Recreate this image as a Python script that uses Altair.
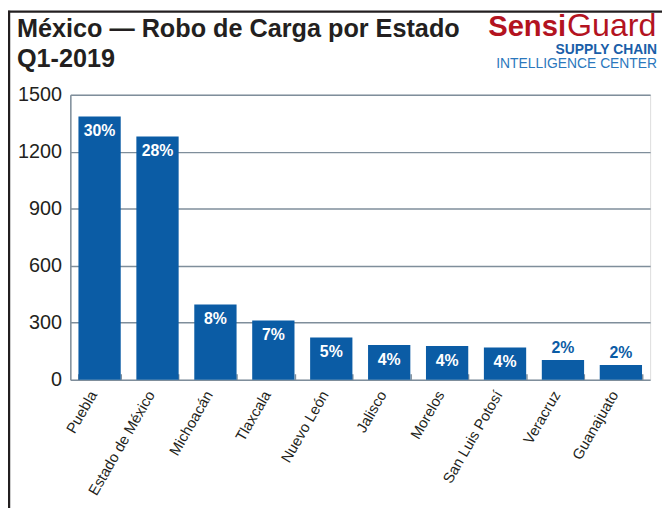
import altair as alt
import pandas as pd

estados = ["Puebla", "Estado de México", "Michoacán", "Tlaxcala", "Nuevo León",
           "Jalisco", "Morelos", "San Luis Potosí", "Veracruz", "Guanajuato"]
robos = [1385, 1280, 396, 312, 222, 182, 177, 170, 104, 78]
porcentajes = ["30%", "28%", "8%", "7%", "5%", "4%", "4%", "4%", "2%", "2%"]
posicion = ["in", "in", "in", "in", "in", "in", "in", "in", "out", "out"]
y_ticks = [0, 300, 600, 900, 1200, 1500]

df = pd.DataFrame({"estado": estados, "robos": robos, "pct": porcentajes, "pos": posicion})
one = pd.DataFrame({"a": [0]})

W, H = 586, 288
FONT = "Liberation Sans"
BLUE = "#0b5ca5"
GRID = "#7f8e9b"
DARK = "#231f20"

x_enc = alt.X("estado:N", sort=None, title=None,
              scale=alt.Scale(paddingInner=0.27, paddingOuter=0.14),
              axis=alt.Axis(labelAngle=300, labelAlign="right", labelBaseline="bottom",
                            labelFontSize=15, labelColor=DARK, labelFont=FONT,
                            labelPadding=16, tickBand="extent", tickSize=6,
                            tickColor=GRID, tickWidth=1.5, domain=False, offset=-6,
                            grid=False))
y_enc = alt.Y("robos:Q", title=None,
              scale=alt.Scale(domain=[0, 1500], nice=False),
              axis=alt.Axis(values=y_ticks, format="d", labelFontSize=20, labelColor=DARK,
                            labelFont=FONT, labelPadding=9, ticks=False,
                            domainColor=GRID, domainWidth=1.5,
                            gridColor=GRID, gridWidth=1.5, grid=True))

base = alt.Chart(df)
bars = base.mark_bar(color=BLUE).encode(x=x_enc, y=y_enc)

inside = base.transform_filter(alt.datum.pos == "in").mark_text(
    color="white", font=FONT, fontSize=16, fontWeight="bold", baseline="top", dy=7
).encode(x=alt.X("estado:N", sort=None), y=alt.Y("robos:Q"), text="pct:N")

outside = base.transform_filter(alt.datum.pos == "out").mark_text(
    color=BLUE, font=FONT, fontSize=16, fontWeight="bold", baseline="bottom", dy=-4
).encode(x=alt.X("estado:N", sort=None), y=alt.Y("robos:Q"), text="pct:N")

c1 = alt.Chart(one)
title1 = c1.mark_text(font=FONT, fontSize=25.5, fontWeight="bold", color=DARK,
                      align="left", baseline="middle").encode(
    x=alt.value(-54), y=alt.value(-66), text=alt.value("México — Robo de Carga por Estado"))
title2 = c1.mark_text(font=FONT, fontSize=25.5, fontWeight="bold", color=DARK,
                      align="left", baseline="middle").encode(
    x=alt.value(-54), y=alt.value(-36), text=alt.value("Q1-2019"))

RED = "#b3131f"
logo1 = c1.mark_text(font=FONT, fontSize=29.5, fontWeight="bold", color=RED,
                     align="right", baseline="alphabetic").encode(
    x=alt.value(501), y=alt.value(-59), text=alt.value("Sensi"))
logo2 = c1.mark_text(font=FONT, fontSize=32.5, fontWeight="normal", color=RED,
                     align="left", baseline="alphabetic").encode(
    x=alt.value(502), y=alt.value(-59), text=alt.value("Guard"))
logo3 = c1.mark_text(font=FONT, fontSize=14, fontWeight="bold", color="#1a5ea8",
                     align="right", baseline="middle").encode(
    x=alt.value(593), y=alt.value(-45), text=alt.value("SUPPLY CHAIN"))
logo4 = c1.mark_text(font=FONT, fontSize=14, fontWeight="normal", color="#2b78bd",
                     align="right", baseline="middle").encode(
    x=alt.value(593), y=alt.value(-31), text=alt.value("INTELLIGENCE CENTER"))

top_border = c1.mark_rule(color=DARK, strokeWidth=2.5).encode(
    x=alt.value(-63), x2=alt.value(610), y=alt.value(-84))
left_border = c1.mark_rule(color=DARK, strokeWidth=2.5).encode(
    x=alt.value(-62), y=alt.value(-85), y2=alt.value(420))

chart = alt.layer(bars, inside, outside, title1, title2, logo1, logo2, logo3, logo4,
                  top_border, left_border).properties(
    width=W, height=H, autosize="none",
    padding={"left": 63, "top": 85, "right": 12, "bottom": 127}
).configure_view(stroke=None).configure(background="white")

chart.save("out.html", embed_options={"renderer": "svg", "actions": False})
